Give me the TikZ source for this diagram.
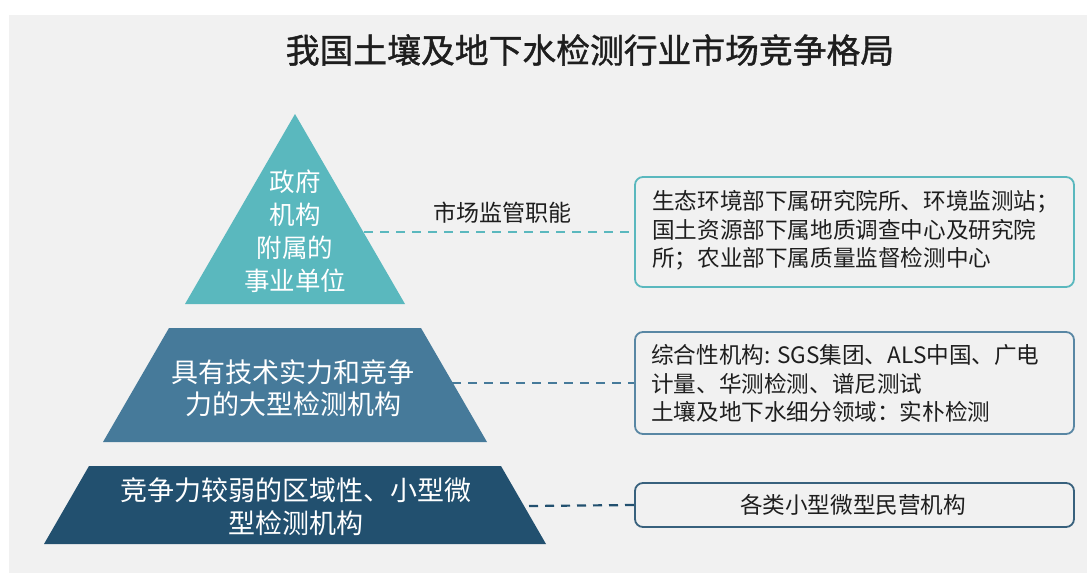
\documentclass[tikz,border=0pt]{standalone}
\usepackage{fontspec}
\setmainfont{Noto Sans CJK SC}
\newfontfamily\titlefont[FakeBold=1.2]{Noto Sans CJK SC}
\definecolor{panel}{HTML}{F1F1F1}
\definecolor{tealc}{HTML}{5AB8BE}
\definecolor{midblue}{HTML}{467A9A}
\definecolor{darkblue}{HTML}{22506F}
\definecolor{txt}{HTML}{1E1E1E}
\tikzset{
  layertext/.style={text=white, align=center, inner sep=0pt},
  infobox/.style={draw, line width=1.8pt, rounded corners=8pt, fill=panel,
    minimum width=439pt, inner sep=0pt},
  link/.style={dash pattern=on 9pt off 7pt, line width=2.2pt},
  boxtext/.style={text=txt, align=left, inner sep=0pt,
    font=\fontsize{22.6}{28.5}\selectfont},
}
\begin{document}
\begin{tikzpicture}[x=1pt,y=-1pt]
\useasboundingbox (0,0) rectangle (1087,574);
\fill[white] (0,0) rectangle (1087,574);
\fill[panel] (9,15) rectangle (1087,573);

% title
\node[text=txt, inner sep=0pt, font=\titlefont\fontsize{33.8}{38}\selectfont] (title) at (590,50) {我国土壤及地下水检测行业市场竞争格局};

% pyramid layers
\fill[tealc] (295,114) -- (405,304) -- (185,304) -- cycle;
\fill[midblue] (169,328) -- (421,328) -- (487,442) -- (103,442) -- cycle;
\fill[darkblue] (89,466) -- (501,466) -- (546,544) -- (44,544) -- cycle;

\node[layertext, font=\fontsize{25.5}{33}\selectfont] (l1) at (295,231) {政府\\机构\\附属的\\事业单位};
\node[layertext, font=\fontsize{27}{32}\selectfont] (l2) at (293,388) {具有技术实力和竞争\\力的大型检测机构};
\node[layertext, font=\fontsize{27}{33}\selectfont] (l3) at (296,506.5) {竞争力较弱的区域性、小型微\\型检测机构};

\coordinate (e1) at (364,232);
\coordinate (e2) at (452,383);
\coordinate (e3) at (529,506);

% info boxes
\node[infobox, draw=tealc, minimum height=110pt] (b1) at (854.5,232) {};
\node[boxtext, anchor=west] (t1) at (652,230.5) {生态环境部下属研究院所、环境监测站；\\国土资源部下属地质调查中心及研究院\\所；农业部下属质量监督检测中心};

\node[infobox, draw=midblue!90!white, minimum height=102pt] (b2) at (854.5,383) {};
\node[boxtext, anchor=west] (t2) at (651,383.5) {综合性机构: SGS集团、ALS中国、广电\\计量、华测检测、谱尼测试\\土壤及地下水细分领域：实朴检测};

\node[infobox, draw=darkblue!90!white, minimum height=44pt] (b3) at (854.5,505) {};
\node[boxtext, align=center] (t3) at (853,505) {各类小型微型民营机构};

% connectors
\draw[link, tealc] (e1) -- (b1.west);
\draw[link, midblue] (e2) -- (b2.west);
\draw[link, darkblue] (e3) -- (b3.west);

\node[text=txt, inner sep=0pt, font=\fontsize{23}{28}\selectfont] (lab) at (502,213) {市场监管职能};
\end{tikzpicture}
\end{document}
